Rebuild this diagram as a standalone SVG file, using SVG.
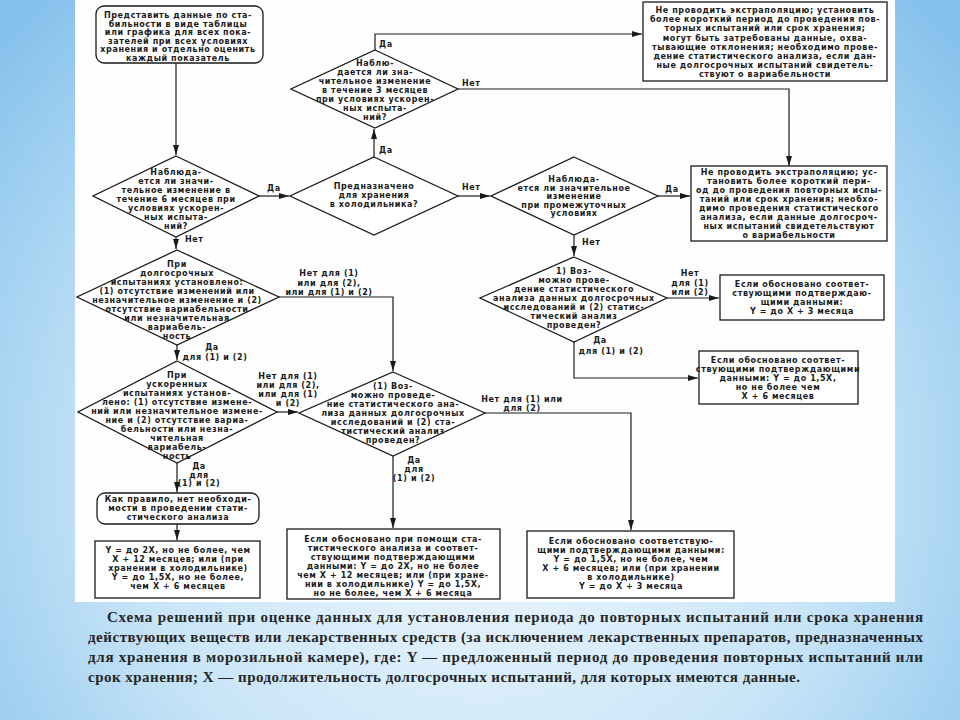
<svg xmlns="http://www.w3.org/2000/svg" width="960" height="720" viewBox="0 0 960 720">
<defs>
<radialGradient id="bg" cx="480" cy="470" r="640" gradientUnits="userSpaceOnUse">
<stop offset="0" stop-color="#f2f9fe"/>
<stop offset="0.55" stop-color="#c9e5f8"/>
<stop offset="1" stop-color="#86c2ec"/>
</radialGradient>
<marker id="a" viewBox="0 0 10 6" refX="10" refY="3" markerWidth="10" markerHeight="6" markerUnits="userSpaceOnUse" orient="auto">
<path d="M0,0 L10,3 L0,6 z" fill="#1a1a1a"/>
</marker>
<style>
.t{font-family:"DejaVu Sans","Liberation Sans",sans-serif;font-size:8px;letter-spacing:0.6px;font-weight:bold;fill:#1a1a1a;text-anchor:middle}
.ls{text-anchor:start}
.s{fill:#fff;stroke:#1a1a1a;stroke-width:1.3}
.c{fill:none;stroke:#1a1a1a;stroke-width:1.2;marker-end:url(#a)}
.cap{font-family:"Liberation Serif","Times New Roman",serif;font-size:15px;font-weight:bold;fill:#262626}
</style>
</defs>
<rect width="960" height="720" fill="url(#bg)"/>
<rect x="75" y="0" width="820" height="602" fill="#fefefe"/>

<g id="connectors">
<path class="c" d="M176,63 V155"/>
<path class="c" d="M259,196 H289"/>
<path class="c" d="M374,157 V129"/>
<path class="c" d="M375,50 V34 H642"/>
<path class="c" d="M458,89 H789 V166"/>
<path class="c" d="M458,196 H490"/>
<path class="c" d="M658,196 H690"/>
<path class="c" d="M574,235 V256"/>
<path class="c" d="M667,298 H719"/>
<path class="c" d="M574,342 V378 H698"/>
<path class="c" d="M176,237 V249"/>
<path class="c" d="M279,297 H393 V371"/>
<path class="c" d="M177,345 V360"/>
<path class="c" d="M277,412 H298"/>
<path class="c" d="M177,463 V492"/>
<path class="c" d="M177,524 V540"/>
<path class="c" d="M485,413 H631 V530"/>
<path class="c" d="M393,456 V528"/>
<g class="t">
<text x="267" y="191" class="ls">Да</text>
<text x="379" y="153" class="ls">Да</text>
<text x="379" y="47" class="ls">Да</text>
<text x="462" y="86" class="ls">Нет</text>
<text x="462" y="190" class="ls">Нет</text>
<text x="665" y="192" class="ls">Да</text>
<text x="582" y="245" class="ls">Нет</text>
<text x="690" y="276">Нет</text>
<text x="690" y="286">для (1)</text>
<text x="690" y="295">или (2)</text>
<text x="600" y="343">Да</text>
<text x="611" y="354">для (1) и (2)</text>
<text x="185" y="242" class="ls">Нет</text>
<text x="329" y="276">Нет для (1)</text>
<text x="329" y="286">или для (2),</text>
<text x="329" y="295">или для (1) и (2)</text>
<text x="212" y="350">Да</text>
<text x="215" y="360">для (1) и (2)</text>
<text x="288" y="379">Нет для (1)</text>
<text x="288" y="388">или для (2),</text>
<text x="288" y="397">или для (1)</text>
<text x="288" y="406">и (2)</text>
<text x="199" y="469">Да</text>
<text x="199" y="477.5">для</text>
<text x="199" y="486">(1) и (2)</text>
<text x="522" y="402">Нет для (1) или</text>
<text x="522" y="411">для (2)</text>
<text x="414" y="463">Да</text>
<text x="414" y="472">для</text>
<text x="414" y="481">(1) и (2)</text>
</g>
</g>

<g id="n1">
<rect class="s" x="96" y="6" width="167" height="57" rx="8"/>
<text class="t"><tspan x="178" y="18">Представить данные по ста-</tspan><tspan x="178" y="26.5">бильности в виде таблицы</tspan><tspan x="178" y="35">или графика для всех пока-</tspan><tspan x="178" y="43.5">зателей при всех условиях</tspan><tspan x="178" y="52">хранения и отдельно оценить</tspan><tspan x="178" y="60.5">каждый показатель</tspan></text>
</g>

<g id="n2">
<polygon class="s" points="176,156 259,196 176,237 93,196"/>
<text class="t"><tspan x="176" y="175">Наблюда-</tspan><tspan x="176" y="184">ется ли значи-</tspan><tspan x="176" y="193">тельное изменение в</tspan><tspan x="176" y="202">течение 6 месяцев при</tspan><tspan x="176" y="211">условиях ускорен-</tspan><tspan x="176" y="220">ных испыта-</tspan><tspan x="176" y="229">ний?</tspan></text>
</g>

<g id="n3">
<polygon class="s" points="374,157 458,196 374,235 290,196"/>
<text class="t"><tspan x="374" y="189">Предназначено</tspan><tspan x="374" y="198">для хранения</tspan><tspan x="374" y="207">в холодильника?</tspan></text>
</g>

<g id="n4">
<polygon class="s" points="375,50 458,89 375,128 291,89"/>
<text class="t"><tspan x="375" y="66">Наблю-</tspan><tspan x="375" y="75">дается ли зна-</tspan><tspan x="375" y="84">чительное изменение</tspan><tspan x="375" y="93">в течение 3 месяцев</tspan><tspan x="375" y="102">при условиях ускорен-</tspan><tspan x="375" y="111">ных испыта-</tspan><tspan x="375" y="120">ний?</tspan></text>
</g>

<g id="n5">
<rect class="s" x="643" y="2" width="244" height="79"/>
<text class="t"><tspan x="765" y="13">Не проводить экстраполяцию; установить</tspan><tspan x="765" y="22.2">более короткий период до проведения пов-</tspan><tspan x="765" y="31.4">торных испытаний или срок хранения;</tspan><tspan x="765" y="40.6">могут быть затребованы данные, охва-</tspan><tspan x="765" y="49.8">тывающие отклонения; необходимо прове-</tspan><tspan x="765" y="59">дение статистического анализа, если дан-</tspan><tspan x="765" y="68.2">ные долгосрочных испытаний свидетель-</tspan><tspan x="765" y="77.4">ствуют о вариабельности</tspan></text>
</g>

<g id="n6">
<polygon class="s" points="574,157 658,196 574,235 491,196"/>
<text class="t"><tspan x="574" y="182">Наблюда-</tspan><tspan x="574" y="190.5">ется ли значительное</tspan><tspan x="574" y="199">изменение</tspan><tspan x="574" y="207.5">при промежуточных</tspan><tspan x="574" y="216">условиях</tspan></text>
</g>

<g id="n7">
<rect class="s" x="691" y="166" width="196" height="75"/>
<text class="t"><tspan x="789" y="175">Не проводить экстраполяцию; ус-</tspan><tspan x="789" y="184">тановить более короткий пери-</tspan><tspan x="789" y="193">од до проведения повторных испы-</tspan><tspan x="789" y="202">таний или срок хранения; необхо-</tspan><tspan x="789" y="211">димо проведения статистического</tspan><tspan x="789" y="220">анализа, если данные долгосроч-</tspan><tspan x="789" y="229">ных испытаний свидетельствуют</tspan><tspan x="789" y="238">о вариабельности</tspan></text>
</g>

<g id="n8">
<polygon class="s" points="574,257 667,298 574,342 480,298"/>
<text class="t"><tspan x="574" y="274">1) Воз-</tspan><tspan x="574" y="283">можно прове-</tspan><tspan x="574" y="292">дение статистического</tspan><tspan x="574" y="301">анализа данных долгосрочных</tspan><tspan x="574" y="310">исследований и (2) статис-</tspan><tspan x="574" y="319">тический анализ</tspan><tspan x="574" y="328">проведен?</tspan></text>
</g>

<g id="n9">
<rect class="s" x="720" y="275" width="164" height="45"/>
<text class="t"><tspan x="802" y="287">Если обосновано соответ-</tspan><tspan x="802" y="296">ствующими подтверждаю-</tspan><tspan x="802" y="305">щими данными:</tspan><tspan x="802" y="314">Y = до X + 3 месяца</tspan></text>
</g>

<g id="n10">
<rect class="s" x="699" y="351" width="159" height="53"/>
<text class="t"><tspan x="778" y="363">Если обосновано соответ-</tspan><tspan x="778" y="372">ствующими подтверждающими</tspan><tspan x="778" y="381">данными: Y = до 1,5X,</tspan><tspan x="778" y="390">но не более чем</tspan><tspan x="778" y="399">X + 6 месяцев</tspan></text>
</g>

<g id="n11">
<polygon class="s" points="177,250 279,297 177,345 77,297"/>
<text class="t"><tspan x="177" y="267">При</tspan><tspan x="177" y="276">долгосрочных</tspan><tspan x="177" y="285">испытаниях установлено:</tspan><tspan x="177" y="294">(1) отсутствие изменений или</tspan><tspan x="177" y="303">незначительное изменение и (2)</tspan><tspan x="177" y="312">отсутствие вариабельности</tspan><tspan x="177" y="321">или незначительная</tspan><tspan x="177" y="330">вариабель-</tspan><tspan x="177" y="339">ность</tspan></text>
</g>

<g id="n12">
<polygon class="s" points="177,361 277,412 177,463 78,412"/>
<text class="t"><tspan x="177" y="378">При</tspan><tspan x="177" y="387">ускоренных</tspan><tspan x="177" y="396">испытаниях установ-</tspan><tspan x="177" y="405">лено: (1) отсутствие измене-</tspan><tspan x="177" y="414">ний или незначительное измене-</tspan><tspan x="177" y="423">ние и (2) отсутствие вариа-</tspan><tspan x="177" y="432">бельности или незна-</tspan><tspan x="177" y="441">чительная</tspan><tspan x="177" y="450">вариабель-</tspan><tspan x="177" y="459">ность</tspan></text>
</g>

<g id="n13">
<polygon class="s" points="393,372 485,413 393,456 299,413"/>
<text class="t"><tspan x="393" y="389">(1) Воз-</tspan><tspan x="393" y="398">можно проведе-</tspan><tspan x="393" y="407">ние статистического ана-</tspan><tspan x="393" y="416">лиза данных долгосрочных</tspan><tspan x="393" y="425">исследований и (2) ста-</tspan><tspan x="393" y="434">тистический анализ</tspan><tspan x="393" y="443">проведен?</tspan></text>
</g>

<g id="n14">
<rect class="s" x="97" y="493" width="162" height="31" rx="8"/>
<text class="t"><tspan x="178" y="502">Как правило, нет необходи-</tspan><tspan x="178" y="511">мости в проведении стати-</tspan><tspan x="178" y="520">стического анализа</tspan></text>
</g>

<g id="n15">
<rect class="s" x="95" y="541" width="165" height="57"/>
<text class="t"><tspan x="178" y="553">Y = до 2X, но не более, чем</tspan><tspan x="178" y="562">X + 12 месяцев; или (при</tspan><tspan x="178" y="571">хранении в холодильнике)</tspan><tspan x="178" y="580">Y = до 1,5X, но не более,</tspan><tspan x="178" y="589">чем X + 6 месяцев</tspan></text>
</g>

<g id="n16">
<rect class="s" x="287" y="529" width="213" height="70"/>
<text class="t"><tspan x="393" y="542">Если обосновано при помощи ста-</tspan><tspan x="393" y="551">тистического анализа и соответ-</tspan><tspan x="393" y="560">ствующими подтверждающими</tspan><tspan x="393" y="569">данными: Y = до 2X, но не более</tspan><tspan x="393" y="578">чем X + 12 месяцев; или (при хране-</tspan><tspan x="393" y="587">нии в холодильнике) Y = до 1,5X,</tspan><tspan x="393" y="596">но не более, чем X + 6 месяца</tspan></text>
</g>

<g id="n17">
<rect class="s" x="527" y="531" width="207" height="67"/>
<text class="t"><tspan x="631" y="544">Если обосновано соответствую-</tspan><tspan x="631" y="553">щими подтверждающими данными:</tspan><tspan x="631" y="562">Y = до 1,5X, но не более, чем</tspan><tspan x="631" y="571">X + 6 месяцев; или (при хранении</tspan><tspan x="631" y="580">в холодильнике)</tspan><tspan x="631" y="589">Y = до X + 3 месяца</tspan></text>
</g>

<g id="caption" class="cap">
<text x="107" y="622" textLength="816" lengthAdjust="spacing">Схема решений при оценке данных для установления периода до повторных испытаний или срока хранения</text>
<text x="88" y="642" textLength="835" lengthAdjust="spacing">действующих веществ или лекарственных средств (за исключением лекарственных препаратов, предназначенных</text>
<text x="88" y="662" textLength="835" lengthAdjust="spacing">для хранения в морозильной камере), где: Y — предложенный период до проведения повторных испытаний или</text>
<text x="88" y="682" textLength="712" lengthAdjust="spacing">срок хранения; X — продолжительность долгосрочных испытаний, для которых имеются данные.</text>
</g>
</svg>
